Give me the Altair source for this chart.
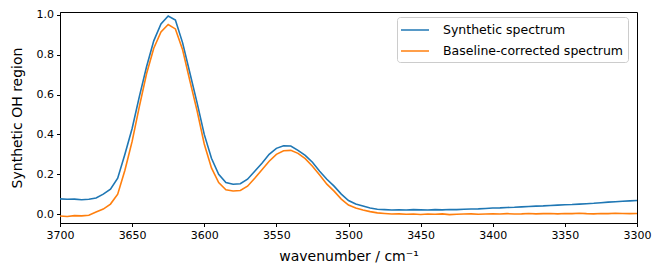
import altair as alt
import pandas as pd

# wavenumber grid (cm^-1), 5 cm^-1 steps from 3700 down to 3300
wavenumber = list(range(3700, 3299, -5))

synthetic = [
    0.076, 0.074, 0.075, 0.072, 0.074, 0.081, 0.100, 0.125, 0.180, 0.300,
    0.430, 0.590, 0.740, 0.870, 0.955, 0.995, 0.975, 0.860, 0.710, 0.560,
    0.400, 0.280, 0.200, 0.158, 0.150, 0.152, 0.175, 0.215, 0.255, 0.300,
    0.330, 0.343, 0.342, 0.320, 0.295, 0.260, 0.215, 0.175, 0.140, 0.100,
    0.068, 0.050, 0.040, 0.030, 0.024, 0.022, 0.020, 0.021, 0.020, 0.022,
    0.021, 0.020, 0.022, 0.021, 0.023, 0.022, 0.024, 0.025, 0.026, 0.028,
    0.030, 0.031, 0.033, 0.034, 0.036, 0.038, 0.040, 0.041, 0.043, 0.045,
    0.047, 0.048, 0.050, 0.052, 0.054, 0.057, 0.060, 0.062, 0.064, 0.066,
    0.068,
]

corrected = [
    -0.010, -0.012, -0.008, -0.009, -0.006, 0.010, 0.025, 0.050, 0.100, 0.220,
    0.365, 0.540, 0.705, 0.833, 0.915, 0.952, 0.930, 0.825, 0.670, 0.520,
    0.352, 0.232, 0.158, 0.122, 0.116, 0.118, 0.140, 0.180, 0.222, 0.265,
    0.300, 0.318, 0.320, 0.305, 0.278, 0.240, 0.196, 0.150, 0.115, 0.075,
    0.045, 0.030, 0.020, 0.012, 0.006, 0.003, 0.000, 0.001, -0.001, 0.000,
    -0.002, 0.000, -0.001, 0.001, -0.003, -0.001, 0.000, 0.001, -0.001, 0.000,
    0.001, 0.000, 0.002, 0.000, 0.001, 0.003, 0.001, 0.002, 0.003, 0.001,
    0.003, 0.002, 0.004, 0.002, 0.001, 0.003, 0.002, 0.004, 0.003, 0.002,
    0.003,
]

series_names = ["Synthetic spectrum", "Baseline-corrected spectrum"]
series_colors = ["#1f77b4", "#ff7f0e"]

x_ticks = [3700, 3650, 3600, 3550, 3500, 3450, 3400, 3350, 3300]
y_ticks = [0.0, 0.2, 0.4, 0.6, 0.8, 1.0]

df_syn = pd.DataFrame({"wn": wavenumber, "value": synthetic, "series": series_names[0]})
df_cor = pd.DataFrame({"wn": wavenumber, "value": corrected, "series": series_names[1]})

x_enc = alt.X(
    "wn:Q",
    scale=alt.Scale(domain=[3700, 3300], nice=False, zero=False),
    axis=alt.Axis(values=x_ticks, format="d", title="wavenumber / cm⁻¹",
                  labelFlush=False, labelOverlap=False),
)
y_enc = alt.Y(
    "value:Q",
    scale=alt.Scale(domain=[-0.045, 1.015], nice=False, zero=False),
    axis=alt.Axis(values=y_ticks, format=".1f", title="Synthetic OH region",
                  labelOverlap=False),
)
color_enc = alt.Color(
    "series:N",
    scale=alt.Scale(domain=series_names, range=series_colors),
    legend=alt.Legend(
        title=None,
        orient="none",
        legendX=337,
        legendY=5,
        symbolType="M-1.75,0H1.75",
        symbolSize=256,
        symbolStrokeWidth=1.5,
        symbolOffset=5,
        labelFontSize=12.5,
        labelFont="DejaVu Sans",
        labelColor="black",
        labelLimit=0,
        labelOffset=19,
        padding=4,
        rowPadding=5,
        fillColor="rgba(255,255,255,0.8)",
        strokeColor="#cccccc",
        cornerRadius=3,
    ),
)

line_syn = alt.Chart(df_syn).mark_line(strokeWidth=1.6, clip=True).encode(x=x_enc, y=y_enc, color=color_enc)
line_cor = alt.Chart(df_cor).mark_line(strokeWidth=1.6, clip=True).encode(x=x_enc, y=y_enc, color=color_enc)

chart = (
    alt.layer(line_syn, line_cor)
    .properties(
        width=577,
        height=211,
        background="white",
        autosize=alt.AutoSizeParams(type="none"),
        padding={"left": 60, "top": 12, "right": 25, "bottom": 55},
    )
    .configure_view(stroke="black", strokeWidth=1)
    .configure_axis(
        grid=False,
        domainColor="black",
        domainWidth=1,
        tickColor="black",
        tickWidth=1,
        tickSize=3.5,
        labelPadding=3,
        labelFont="DejaVu Sans",
        labelFontSize=11,
        labelColor="black",
        titleFont="DejaVu Sans",
        titleFontSize=14,
        titleFontWeight="normal",
        titleColor="black",
    )
    .configure_axisX(titlePadding=9)
    .configure_axisY(titlePadding=12)
)

chart.save("out.html", embed_options={"renderer": "svg", "actions": False})
